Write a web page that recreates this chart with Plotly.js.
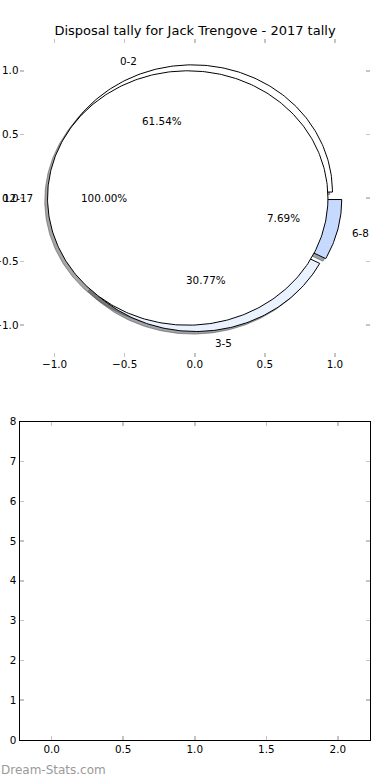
<!DOCTYPE html>
<html>
<head>
<meta charset="utf-8">
<script src="https://cdn.plot.ly/plotly-3.0.1.min.js"></script>
<style>html,body{margin:0;padding:0;background:#fff;}#chart{width:390px;height:780px;}</style>
</head>
<body>
<div id="chart"></div>
<script>
// ---- data ----
const categories = ['0-2', '3-5', '6-8'];
const values = [8, 4, 1];
const categories2 = ['12-17'];
const values2 = [1];
const titleText = 'Disposal tally for Jack Trengove - 2017 tally';
const pieTicks = [-1.0, -0.5, 0.0, 0.5, 1.0];
const barXTicks = [0.0, 0.5, 1.0, 1.5, 2.0];
const barYTicks = [0, 1, 2, 3, 4, 5, 6, 7, 8];

// ---- styles ----
const colors = ['#ffffff', '#eaf1ff', '#c6daff'];
const colors2 = ['#ffffff'];
const EXPLODE = 0.05;
const SHADOW = [-0.02, -0.02];
const FONT = 'DejaVu Sans, Arial, sans-serif';
const FS = 10.4;

function hexToRgb(h) {
  h = h.replace('#', '');
  return [parseInt(h.substr(0, 2), 16), parseInt(h.substr(2, 2), 16), parseInt(h.substr(4, 2), 16)];
}

function buildPie(cats, vals, cols) {
  const total = vals.reduce((a, b) => a + b, 0);
  let start = 0;
  const out = [];
  vals.forEach((v, i) => {
    const frac = v / total;
    const t1 = start, t2 = start + frac * 360;
    const mid = (t1 + t2) / 2 * Math.PI / 180;
    const cx = EXPLODE * Math.cos(mid), cy = EXPLODE * Math.sin(mid);
    const xs = [], ys = [];
    const full = frac >= 0.9999;
    const n = Math.max(8, Math.round(frac * 360));
    if (!full) { xs.push(cx); ys.push(cy); }
    for (let k = 0; k <= n; k++) {
      const a = (t1 + (t2 - t1) * k / n) * Math.PI / 180;
      xs.push(cx + Math.cos(a)); ys.push(cy + Math.sin(a));
    }
    if (!full) { xs.push(cx); ys.push(cy); }
    out.push({
      cat: cats[i], pct: (frac * 100).toFixed(2) + '%', color: cols[i],
      xs, ys,
      lx: cx + 1.1 * Math.cos(mid), ly: cy + 1.1 * Math.sin(mid),
      px: cx + 0.6 * Math.cos(mid), py: cy + 0.6 * Math.sin(mid)
    });
    start = t2;
  });
  return out;
}

const pie1 = buildPie(categories, values, colors);
const pie2 = buildPie(categories2, values2, colors2);
const allW = pie1.concat(pie2);

const traces = [];
// shadows first (lower zorder)
allW.forEach(w => {
  const c = hexToRgb(w.color).map(v => Math.round(v * 0.3));
  const col = 'rgba(' + c.join(',') + ',0.5)';
  traces.push({
    type: 'scatter', mode: 'lines', xaxis: 'x', yaxis: 'y',
    x: w.xs.map(v => v + SHADOW[0]), y: w.ys.map(v => v + SHADOW[1]),
    fill: 'toself', fillcolor: col, line: {color: col, width: 1},
    hoverinfo: 'skip', showlegend: false
  });
});
// wedges
allW.forEach(w => {
  traces.push({
    type: 'scatter', mode: 'lines', xaxis: 'x', yaxis: 'y',
    x: w.xs, y: w.ys,
    fill: 'toself', fillcolor: w.color, line: {color: '#000000', width: 1},
    hoverinfo: 'skip', showlegend: false
  });
});
// empty trace for lower axes
traces.push({type: 'scatter', mode: 'markers', x: [], y: [], xaxis: 'x2', yaxis: 'y2', showlegend: false});

const annotations = [];
allW.forEach(w => {
  annotations.push({
    xref: 'x', yref: 'y', x: w.lx, y: w.ly, text: w.cat, showarrow: false,
    xanchor: w.lx < 0 ? 'right' : 'left', yanchor: 'middle', borderpad: 0,
    font: {family: FONT, size: FS, color: '#000'}
  });
  annotations.push({
    xref: 'x', yref: 'y', x: w.px, y: w.py, text: w.pct, showarrow: false,
    xanchor: 'center', yanchor: 'middle', borderpad: 0,
    font: {family: FONT, size: FS, color: '#000'}
  });
});
annotations.push({
  xref: 'paper', yref: 'paper', x: 0, y: 1 - 770 / 780, text: 'Dream-Stats.com',
  showarrow: false, xanchor: 'left', yanchor: 'middle', borderpad: 0,
  font: {family: FONT, size: 12, color: '#9a9a9a'}
});

const tickStyle = {
  ticks: 'inside', ticklen: 4, tickwidth: 1.5, tickcolor: '#c4c4c4',
  showgrid: false, zeroline: false,
  tickfont: {family: FONT, size: FS, color: '#000'}
};

const layout = {
  width: 390, height: 780,
  margin: {l: 0, r: 0, t: 0, b: 0},
  paper_bgcolor: '#ffffff', plot_bgcolor: 'rgba(0,0,0,0)',
  hovermode: false, showlegend: false,
  title: {text: titleText, x: 0.5, xanchor: 'center', y: 1 - 30 / 780, yanchor: 'middle',
          font: {family: FONT, size: 13, color: '#000'}},
  xaxis: Object.assign({}, tickStyle, {
    domain: [19.5 / 390, 370 / 390], range: [-1.25, 1.25], anchor: 'y',
    tickvals: pieTicks, tickformat: '.1f', showline: false, mirror: 'ticks'
  }),
  yaxis: Object.assign({}, tickStyle, {
    domain: [1 - 357 / 780, 1 - 39 / 780], range: [-1.25, 1.25], anchor: 'x',
    tickvals: pieTicks, tickformat: '.1f', showline: false, mirror: 'ticks'
  }),
  xaxis2: Object.assign({}, tickStyle, {
    domain: [19.5 / 390, 370 / 390], range: [-0.225, 2.225], anchor: 'y2',
    tickvals: barXTicks, tickformat: '.1f', showline: true, linecolor: '#000', linewidth: 1, mirror: 'ticks'
  }),
  yaxis2: Object.assign({}, tickStyle, {
    domain: [1 - 740 / 780, 1 - 421.7 / 780], range: [0, 8], anchor: 'x2',
    tickvals: barYTicks, tickformat: 'd', showline: true, linecolor: '#000', linewidth: 1, mirror: 'ticks'
  }),
  annotations: annotations
};

Plotly.newPlot('chart', traces, layout, {staticPlot: true, displayModeBar: false});
</script>
</body>
</html>
